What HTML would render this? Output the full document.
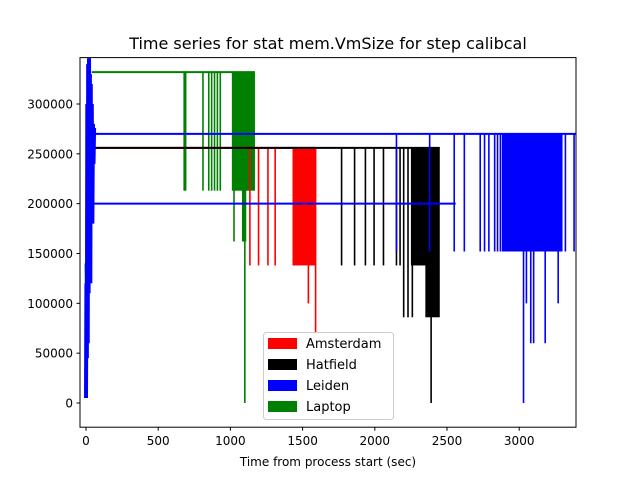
<!DOCTYPE html>
<html><head><meta charset="utf-8"><style>
body{margin:0;background:#fff;}
svg{display:block;font-family:"DejaVu Sans","Liberation Sans",sans-serif;}
</style></head><body>
<svg id="chart" width="640" height="480">
<rect width="640" height="480" fill="#fff"/>
<text x="328" y="49" font-size="16" text-anchor="middle">Time series for stat mem.VmSize for step calibcal</text>
<g id="plot"></g>
<g id="axes"></g>
<text x="328" y="466" font-size="12" text-anchor="middle">Time from process start (sec)</text>
<g>
<rect x="263.5" y="332.5" width="130" height="87" rx="3" fill="#fff" fill-opacity="0.8" stroke="#ccc"/>
<rect x="268" y="338" width="29" height="11" fill="#ff0000"/>
<text x="306" y="348" font-size="13">Amsterdam</text>
<rect x="268" y="359" width="29" height="11" fill="#000"/>
<text x="306" y="369" font-size="13">Hatfield</text>
<rect x="268" y="380" width="29" height="11" fill="#0000ff"/>
<text x="306" y="390" font-size="13">Leiden</text>
<rect x="268" y="401" width="29" height="11" fill="#008000"/>
<text x="306" y="411" font-size="13">Laptop</text>
</g>
</svg>
<script>
const xTicks=[0,500,1000,1500,2000,2500,3000];
const yTicks=[0,50000,100000,150000,200000,250000,300000];
const greenTop=332000, greenStart=40, greenEnd=1170;
const greenSpikeT=[680,690,810,850,870,890,910,930,1025,1100];
const greenSpikeLow=[213000,213000,213000,213000,213000,213000,213000,213000,162000,0];
const greenBlocks=[[1010,1170,213000],[1080,1110,162000]];
const redTop=256000, redStart=30, redEnd=1590;
const redSpikeT=[1135,1195,1260,1310,1540,1590];
const redSpikeLow=[138000,138000,138000,138000,100000,70000];
const redBlocks=[[1430,1590,138000]];
const blackTop=256000, blackStart=30, blackEnd=2450;
const blackSpikeT=[1770,1860,1935,1995,2060,2150,2175,2200,2230,2260,2390];
const blackSpikeLow=[138000,138000,138000,138000,138000,138000,138000,86000,86000,86000,0];
const blackBlocks=[[2250,2380,138000],[2350,2450,86000]];
const blueTop=270000, blueStart=30, blueEnd=3390;
const blue2Level=200000, blue2Start=30, blue2End=2560;
const blueSpikeT=[2150,2380,2550,2620,2730,2760,2790,2830,2850,2870,3320,3380,3050,3080,3100,3180,3030,3270];
const blueSpikeLow=[152000,152000,152000,152000,152000,152000,152000,152000,152000,152000,152000,152000,100000,60000,60000,60000,0,100000];
const blueBlocks=[[2880,3300,152000]];
const blueEarlyT=[0,3,6,9,12,15,18,21,24,27,30,33,36,40,44,48,52,56];
const blueEarlyV=[5000,120000,45000,300000,60000,340000,110000,346000,150000,330000,120000,320000,200000,300000,180000,280000,240000,276000];
const greenEarlyT=[0,4,8];
const greenEarlyV=[140000,100000,130000];

const X=v=>86+v*72.2/500;
const Y=v=>403-v*0.9967/1000;
const NS='http://www.w3.org/2000/svg';
const plot=document.getElementById('plot'), axes=document.getElementById('axes');
function mk(tag,attrs,parent){const e=document.createElementNS(NS,tag);for(const k in attrs)e.setAttribute(k,attrs[k]);parent.appendChild(e);return e;}

function drawSeries(name,color,top,s,e,sT,sL,blocks){
  const h=mk('line',{x1:X(s),x2:X(e),y1:Y(top),y2:Y(top),stroke:color,'stroke-width':2},plot);
  
  
  blocks.forEach(b=>{
    const r=mk('rect',{x:X(b[0]),y:Y(top),width:X(b[1])-X(b[0]),height:Y(b[2])-Y(top),fill:color},plot);
    
    
  });
  sT.forEach((t,i)=>{
    const l=mk('line',{x1:X(t),x2:X(t),y1:Y(top),y2:Y(sL[i]),stroke:color,'stroke-width':1.6},plot);
    
    
  });
}
drawSeries('laptop','#008000',greenTop,greenStart,greenEnd,greenSpikeT,greenSpikeLow,greenBlocks);
drawSeries('amsterdam','#ff0000',redTop,redStart,redEnd,redSpikeT,redSpikeLow,redBlocks);
drawSeries('hatfield','#000000',blackTop,blackStart,blackEnd,blackSpikeT,blackSpikeLow,blackBlocks);
drawSeries('leiden','#0000ff',blueTop,blueStart,blueEnd,blueSpikeT,blueSpikeLow,blueBlocks);
const b2=mk('line',{x1:X(blue2Start),x2:X(blue2End),y1:Y(blue2Level),y2:Y(blue2Level),stroke:'#0000ff','stroke-width':2},plot);


function early(name,color,T,V,w){
  const p=mk('polyline',{points:T.map((t,i)=>X(t)+','+Y(V[i])).join(' '),fill:'none',stroke:color,'stroke-width':w},plot);
  
  
}
early('laptop','#008000',greenEarlyT,greenEarlyV,3);
early('leiden','#0000ff',blueEarlyT,blueEarlyV,4);

mk('rect',{x:80,y:57.6,width:496,height:369.6,fill:'none',stroke:'#000','stroke-width':1},axes);
xTicks.forEach(t=>{
  mk('line',{x1:X(t),x2:X(t),y1:427.2,y2:430.7,stroke:'#000'},axes);
  const tx=mk('text',{x:X(t),y:445,'font-size':12,'text-anchor':'middle'},axes);
  tx.textContent=t;
  
  
});
yTicks.forEach(t=>{
  mk('line',{x1:76.5,x2:80,y1:Y(t),y2:Y(t),stroke:'#000'},axes);
  const tx=mk('text',{x:73,y:Y(t)+4.5,'font-size':12,'text-anchor':'end'},axes);
  tx.textContent=t;
  
  
});
</script>
</body></html>
